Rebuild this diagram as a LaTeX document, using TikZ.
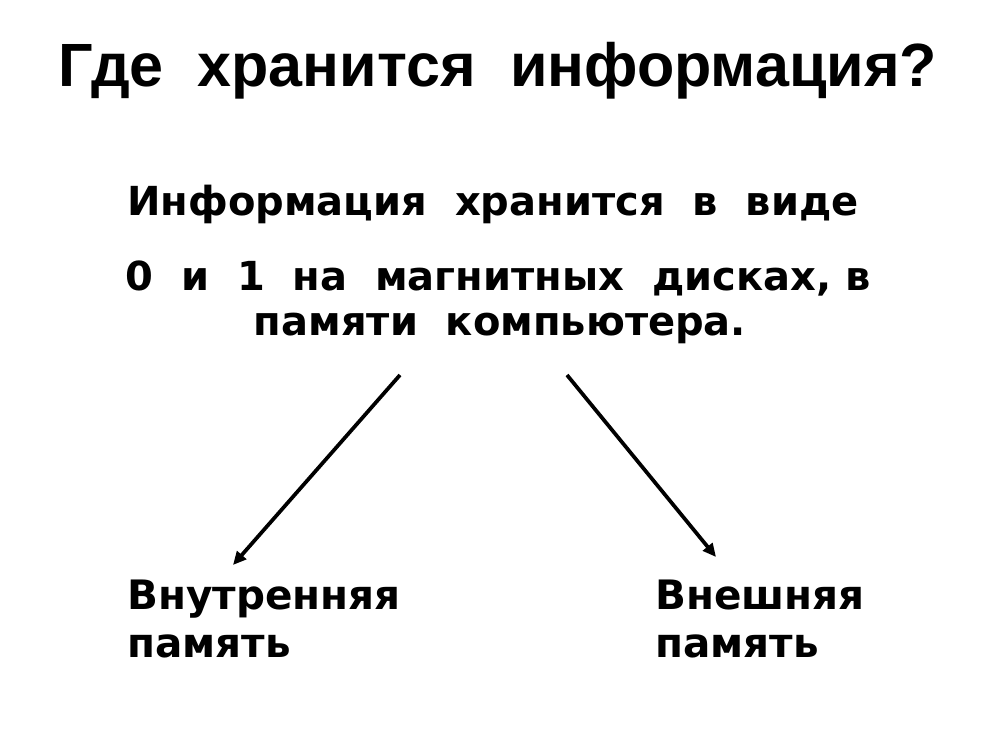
\documentclass[tikz,border=0pt]{standalone}
\usepackage{fontspec}
\setmainfont{DejaVu Sans}
\newfontfamily\titlefont{Liberation Sans}
\usepackage{tikz}
\usetikzlibrary{arrows.meta}

\begin{document}
\begin{tikzpicture}[x=0.75pt,y=-0.75pt,
    arr/.style={line width=2.8pt,-{Triangle[length=10pt,width=9pt]}},
    txt/.style={inner sep=0pt,anchor=base,font=\fontsize{30}{34}\selectfont\bfseries},
    lbl/.style={inner sep=0pt,anchor=base west,align=left,font=\fontsize{30.4}{36}\selectfont\bfseries}]
  \useasboundingbox (0,0) rectangle (1000,750);
  \node[txt,font=\fontsize{45.8}{50}\selectfont\titlefont\bfseries] (title) at (498,86) {Где~ хранится~ информация?};
  \node[txt] (line1) at (493,215) {Информация~ хранится~ в~ виде};
  \node[txt] (line2) at (498,290) {0~ и~ 1~ на~ магнитных~ дисках, в};
  \node[txt] (line3) at (500,335) {памяти~ компьютера.};
  % labels: base anchor sits on the last line
  \node[lbl] (inner) at (127,657) {Внутренняя\\память};
  \node[lbl] (outer) at (655,657) {Внешняя\\память};
  \coordinate (lstart) at (400,375);
  \coordinate (lend) at (233,565);
  \coordinate (rstart) at (567,375);
  \coordinate (rend) at (716,557);
  \draw[arr] (lstart) -- (lend);
  \draw[arr] (rstart) -- (rend);
\end{tikzpicture}
\end{document}
